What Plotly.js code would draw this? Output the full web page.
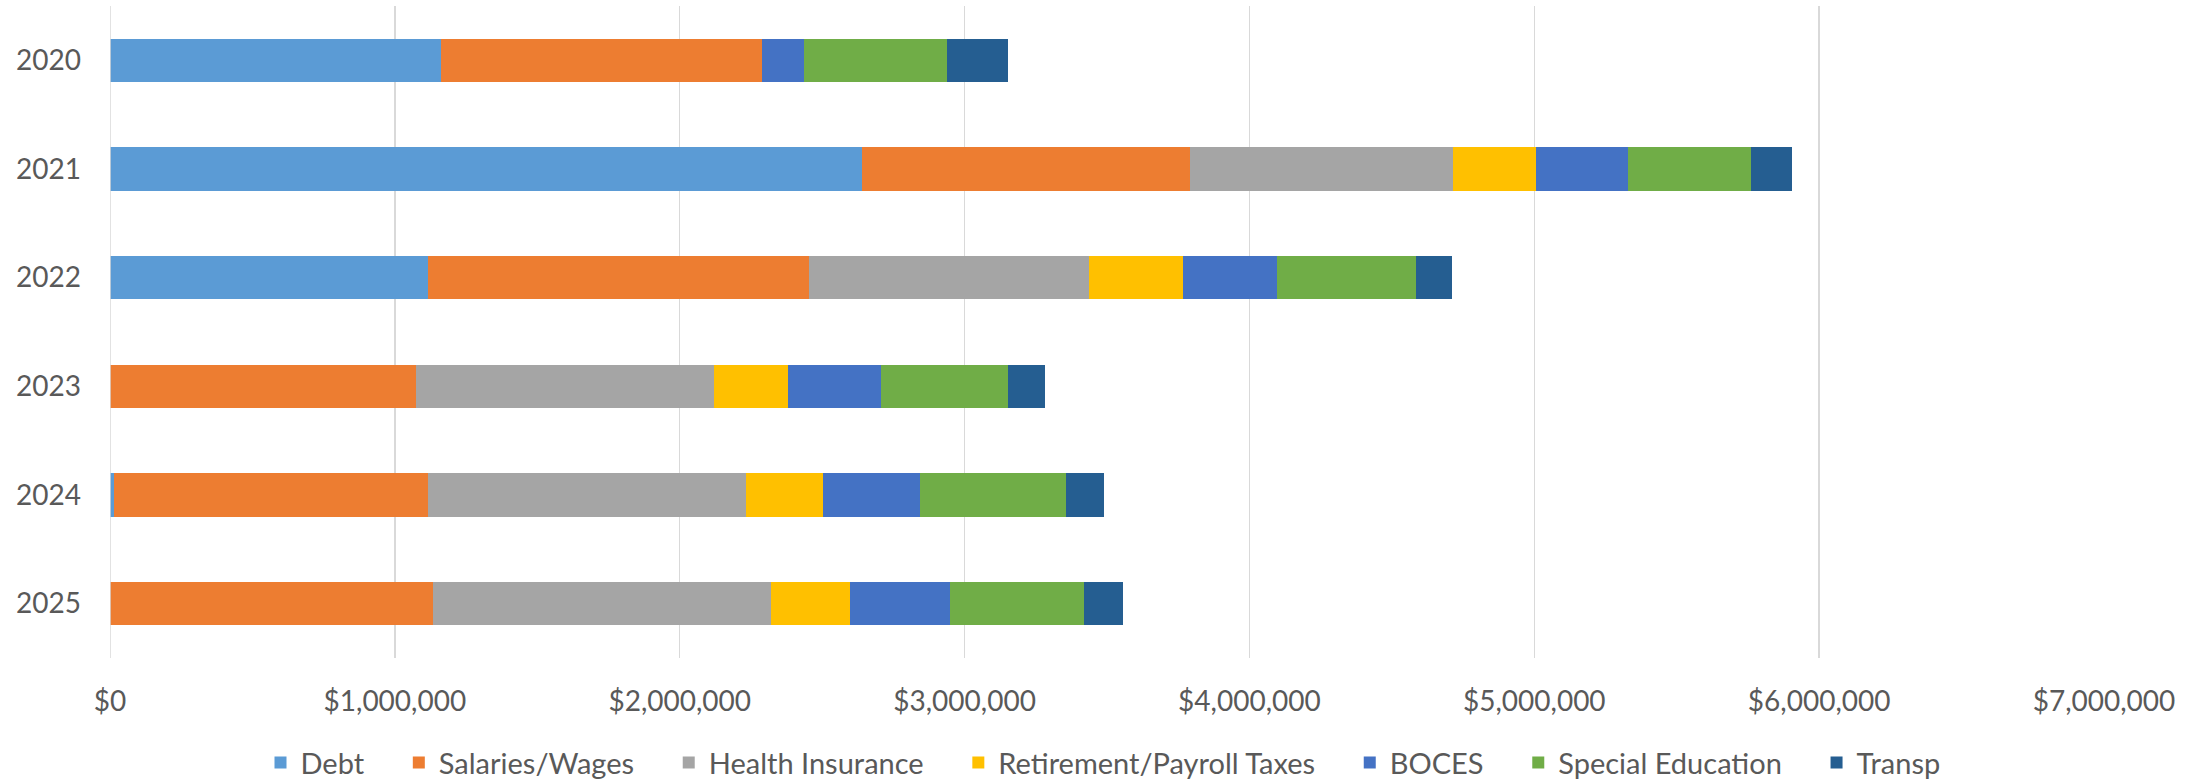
<!DOCTYPE html>
<html>
<head>
<meta charset="utf-8">
<script src="https://cdn.plot.ly/plotly-3.0.1.min.js"></script>
<style>html,body{margin:0;padding:0;background:#fff;}#chart{width:2206px;height:779px;}</style>
</head>
<body>
<div id="chart"></div>
<script>
const years = ['2020', '2021', '2022', '2023', '2024', '2025'];
const debt       = [1163000, 2641000, 1118000, 0, 15000, 0];
const salaries   = [1125000, 1151000, 1335000, 1074000, 1101000, 1133000];
const health     = [0, 923000, 984000, 1047000, 1118000, 1188000];
const retirement = [0, 292000, 330000, 259000, 269000, 278000];
const boces      = [150000, 321000, 330000, 327000, 340000, 349000];
const specialEd  = [500000, 433000, 486000, 446000, 514000, 471000];
const transp     = [215000, 145000, 127000, 131000, 132000, 138000];
const seriesNames = ['Debt', 'Salaries/Wages', 'Health Insurance', 'Retirement/Payroll Taxes', 'BOCES', 'Special Education', 'Transp'];
const xTicks = [0, 1000000, 2000000, 3000000, 4000000, 5000000, 6000000, 7000000];
const xTickText = ['$0', '$1,000,000', '$2,000,000', '$3,000,000', '$4,000,000', '$5,000,000', '$6,000,000', '$7,000,000'];

const values = [debt, salaries, health, retirement, boces, specialEd, transp];
const colors = ['#5B9BD5', '#ED7D31', '#A5A5A5', '#FFC000', '#4472C4', '#70AD47', '#255E91'];
const pad = '\u00a0\u00a0\u00a0\u00a0';

const traces = seriesNames.map((name, i) => ({
  type: 'bar', orientation: 'h', name: name + (i < seriesNames.length - 1 ? pad : ''),
  x: values[i], y: years,
  marker: {color: colors[i], line: {width: 0}}
}));

const font = {family: 'Lato, "Open Sans", sans-serif', size: 28, color: '#595959'};
const legFont = {family: 'Lato, "Open Sans", sans-serif', size: 29, color: '#595959'};

Plotly.newPlot('chart', traces, {
  width: 2206, height: 779,
  barmode: 'stack', bargap: 0.6,
  margin: {l: 110, r: 102, t: 6, b: 121, autoexpand: false},
  paper_bgcolor: '#fff', plot_bgcolor: '#fff',
  font: font,
  xaxis: {range: [0, 7000000], tickvals: xTicks, ticktext: xTickText,
          showgrid: true, gridcolor: '#D9D9D9', gridwidth: 1.5, automargin: false,
          zeroline: false, showline: false, ticks: '', ticklabelstandoff: 24,
          tickfont: font, fixedrange: true},
  yaxis: {type: 'category', autorange: 'reversed', showgrid: false, zeroline: false, automargin: false,
          showline: false, ticks: '', ticklabelstandoff: 28, tickfont: font},
  showlegend: true,
  legend: {orientation: 'h', x: 0.5, xref: 'container', xanchor: 'center',
           y: 0.021, yref: 'container', yanchor: 'middle',
           font: legFont, traceorder: 'normal'},
  shapes: [{type: 'line', xref: 'x', yref: 'paper', x0: 0, x1: 0, y0: 0, y1: 1,
            line: {color: '#D9D9D9', width: 1.5}}]
}, {displayModeBar: false, staticPlot: true});
</script>
</body>
</html>
